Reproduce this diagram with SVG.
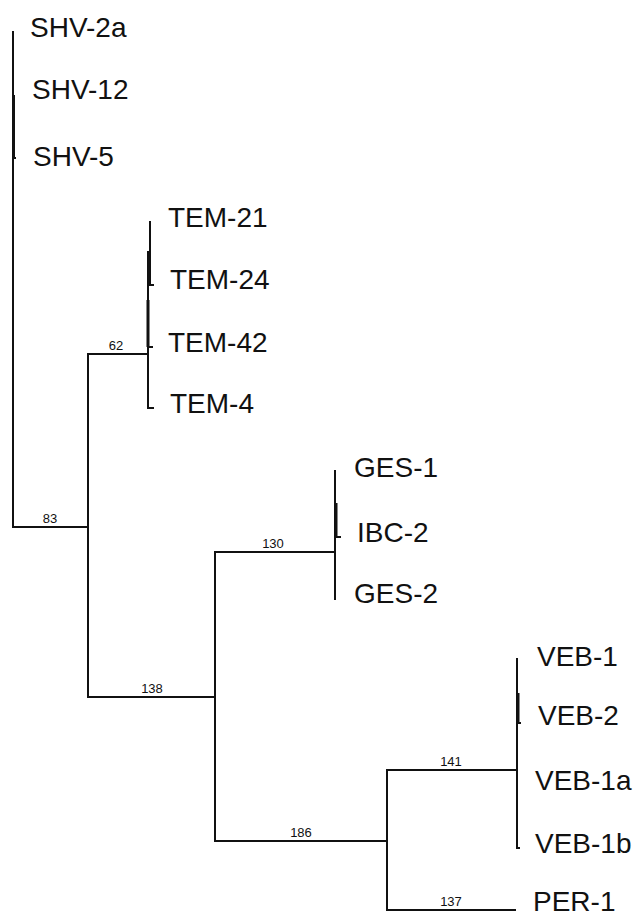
<svg xmlns="http://www.w3.org/2000/svg" width="639" height="916" viewBox="0 0 639 916">
<style>
.br{stroke:#111;stroke-width:2;fill:none;stroke-linecap:square}
.thick{fill:#111;stroke:none}
.leaf{font-family:"Liberation Sans",Arial,sans-serif;font-size:28px;fill:#111}
.bl{font-family:"Liberation Sans",Arial,sans-serif;font-size:13px;fill:#111;text-anchor:middle}
</style>
<rect width="639" height="916" fill="#fff"/>
<g id="connectors">
<path class="br" d="M13,32 V527 H88"/>
<rect class="thick" x="12" y="95" width="3" height="63"/>
<path class="br" d="M13,158 H15"/>
<path class="br" d="M88,354 V697"/>
<path class="br" d="M88,354 H148"/>
<path class="br" d="M150,222 V285 H153"/>
<path class="br" d="M148,252 V408 H153"/>
<rect class="thick" x="146.5" y="300" width="3" height="47"/>
<path class="br" d="M148,347 H152"/>
<path class="br" d="M88,697 H215 V841 H387"/>
<path class="br" d="M215,552 V697"/>
<path class="br" d="M215,552 H335"/>
<path class="br" d="M335,471 V599"/>
<rect class="thick" x="334.5" y="503" width="3" height="34"/>
<path class="br" d="M335,537 H340"/>
<path class="br" d="M387,770 V910 H515"/>
<path class="br" d="M387,770 H517"/>
<path class="br" d="M517,659 V848 H519"/>
<rect class="thick" x="516.5" y="693" width="3" height="30"/>
<path class="br" d="M517,723 H520"/>
</g>
<g id="branch-labels">
<text class="bl" x="50" y="523">83</text>
<text class="bl" x="116" y="350">62</text>
<text class="bl" x="273" y="548">130</text>
<text class="bl" x="152" y="693">138</text>
<text class="bl" x="451" y="766">141</text>
<text class="bl" x="301" y="837">186</text>
<text class="bl" x="451" y="906">137</text>
</g>
<g id="SHV-2a"><text class="leaf" x="30" y="37">SHV-2a</text></g>
<g id="SHV-12"><text class="leaf" x="32" y="99">SHV-12</text></g>
<g id="SHV-5"><text class="leaf" x="33" y="166">SHV-5</text></g>
<g id="TEM-21"><text class="leaf" x="168" y="227">TEM-21</text></g>
<g id="TEM-24"><text class="leaf" x="170" y="289">TEM-24</text></g>
<g id="TEM-42"><text class="leaf" x="168" y="352">TEM-42</text></g>
<g id="TEM-4"><text class="leaf" x="170" y="413">TEM-4</text></g>
<g id="GES-1"><text class="leaf" x="354" y="477">GES-1</text></g>
<g id="IBC-2"><text class="leaf" x="357" y="542">IBC-2</text></g>
<g id="GES-2"><text class="leaf" x="354" y="603">GES-2</text></g>
<g id="VEB-1"><text class="leaf" x="537" y="666">VEB-1</text></g>
<g id="VEB-2"><text class="leaf" x="538" y="725">VEB-2</text></g>
<g id="VEB-1a"><text class="leaf" x="535" y="790">VEB-1a</text></g>
<g id="VEB-1b"><text class="leaf" x="535" y="853">VEB-1b</text></g>
<g id="PER-1"><text class="leaf" x="533" y="911">PER-1</text></g>
</svg>
